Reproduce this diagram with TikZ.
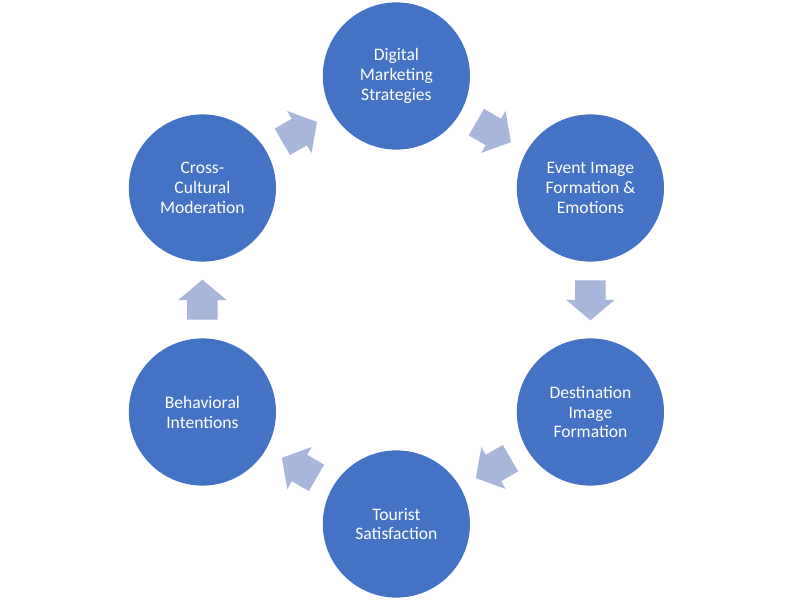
\documentclass[tikz,border=0pt]{standalone}
\usepackage{fontspec}
\setmainfont{Carlito}
\usetikzlibrary{shapes.arrows,calc}
\definecolor{stageblue}{RGB}{68,114,196}
\definecolor{flowblue}{RGB}{169,182,220}

\begin{document}
\begin{tikzpicture}[
	stage/.style={circle, fill=stageblue, minimum size=3.68cm, inner sep=0pt,
		align=center, text=white, font=\fontsize{12.5}{14.2}\selectfont},
	flow/.style={single arrow, fill=flowblue, minimum height=1cm, inner xsep=0pt, inner ysep=0.375cm,
		single arrow head extend=0.225cm, single arrow tip angle=100, anchor=tail}]
		\useasboundingbox (0,0) rectangle (20,15);
		% the six stages
		\node[stage] (digital)    at (9.91,13.1) {Digital\\Marketing\\Strategies};
		\node[stage] (event)      at (14.76,10.3) {Event Image\\Formation \&\\Emotions};
		\node[stage] (destin)     at (14.76,4.7) {Destination\\Image\\Formation};
		\node[stage] (tourist)    at (9.91,1.9) {Tourist\\Satisfaction};
		\node[stage] (behave)     at (5.06,4.7) {Behavioral\\Intentions};
		\node[stage] (cross)      at (5.06,10.3) {Cross-\\Cultural\\Moderation};
		% midpoints between stages
		\coordinate (m1) at ($(digital)!0.5!(event)$);
		\coordinate (m2) at ($(event)!0.5!(destin)$);
		\coordinate (m3) at ($(destin)!0.5!(tourist)$);
		\coordinate (m4) at ($(tourist)!0.5!(behave)$);
		\coordinate (m5) at ($(behave)!0.5!(cross)$);
		\coordinate (m6) at ($(cross)!0.5!(digital)$);
		% block arrows
		\node[flow, rotate=-30] (f1) at ($(m1)!0.5cm!(digital)$) {};
		\node[flow, rotate=-90] (f2) at ($(m2)!0.5cm!(event)$) {};
		\node[flow, rotate=210] (f3) at ($(m3)!0.5cm!(destin)$) {};
		\node[flow, rotate=150] (f4) at ($(m4)!0.5cm!(tourist)$) {};
		\node[flow, rotate=90]  (f5) at ($(m5)!0.5cm!(behave)$) {};
		\node[flow, rotate=30]  (f6) at ($(m6)!0.5cm!(cross)$) {};
	\end{tikzpicture}
\end{document}
